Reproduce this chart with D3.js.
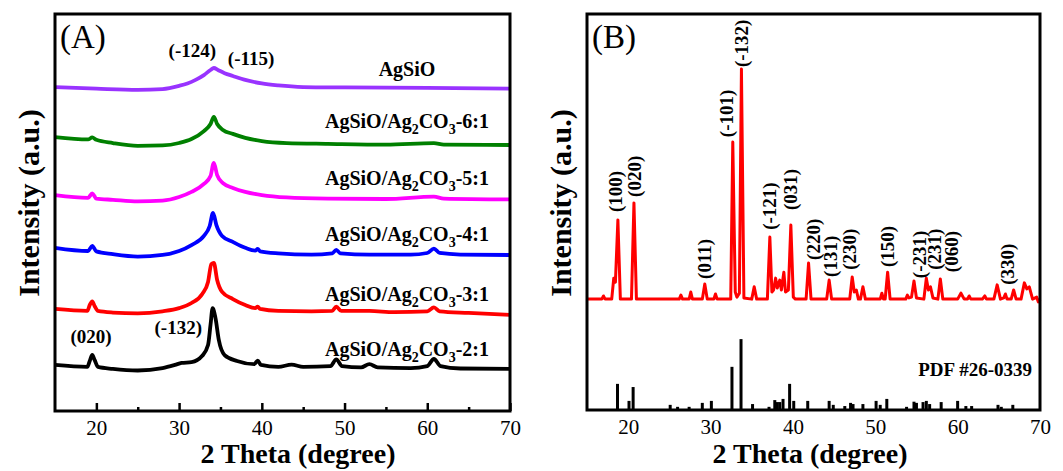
<!DOCTYPE html>
<html>
<head>
<meta charset="utf-8">
<script src="https://cdn.jsdelivr.net/npm/d3@7"></script>
<style>
  body { margin: 0; background: #fff; }
  svg text { font-family: "Liberation Serif", "Times New Roman", serif; }
</style>
</head>
<body>
<svg id="xrd" width="1063" height="471"></svg>
<script>
// 2 theta ticks
const majorTicks = [20, 30, 40, 50, 60, 70];
const minorTicks = [25, 35, 45, 55, 65];
const thetaRange = [15, 70];

// panel A: stacked patterns [2theta, intensity a.u.]
const agSiO = [[15,816],[20,812],[25,809],[28,811],[30,819],[31,825],[32,834],[33,846],[33.8,859],[34.2,864],[34.7,859],[35.5,851],[36.5,844],[38,834],[40,825],[42,820],[45,816],[50,815],[60,814],[70,812]];
const ratio61 = [[15,690],[19,684],[19.5,689],[20,683],[22,675],[25,668],[28,669],[30,675],[31.5,685],[33,705],[33.8,723],[34.2,741],[34.6,723],[35.3,708],[36.5,698],[38,688],[40,680],[43,675],[48,673],[55,671],[60.8,675],[62,671],[70,670]];
const ratio51 = [[15,544],[19,537],[19.5,548],[20,535],[22,532],[25,528],[28,530],[30,539],[31.5,552],[33,572],[33.8,592],[34.2,625],[34.6,594],[35.3,574],[36.5,562],[38,552],[40,544],[43,538],[48,535],[55,534],[60.8,540],[62,535],[70,533]];
const ratio41 = [[15,411],[19,403],[19.5,416],[20,402],[22,395],[25,389],[28,393],[30,403],[31.5,418],[33,441],[33.7,466],[34.1,499],[34.5,469],[35.2,441],[36.5,426],[38,411],[39.2,404],[39.5,408],[39.8,402],[42,397],[46,394],[48.5,397],[49,406],[49.5,397],[53,394],[58,394],[60,398],[60.8,409],[61.5,398],[64,394],[70,393]];
const ratio31 = [[15,257],[18.9,252],[19.2,267],[19.5,276],[19.8,264],[20.2,252],[22,248],[25,246],[28,251],[30,259],[31.5,272],[32.8,295],[33.5,325],[33.9,370],[34.2,373],[34.6,330],[35.2,300],[36.5,282],[38,267],[39.2,259],[39.5,263],[39.8,257],[42,252],[46,251],[48.5,252],[49,263],[49.6,252],[53,252],[56,249],[60,251],[60.8,261],[61.5,251],[65,247],[70,242]];
const ratio21 = [[15,116],[18.9,111],[19.2,126],[19.5,141],[19.8,128],[20.2,111],[22,106],[25,102],[28,108],[29.5,116],[30.3,121],[31.5,123],[32.8,139],[33.5,166],[33.8,217],[34.05,259],[34.4,234],[34.8,179],[35.5,141],[37,126],[39.1,118],[39.5,127],[39.9,116],[42,111],[43.6,117],[45,111],[48.3,113],[49,130],[49.7,113],[52,110],[53,118],[54,110],[58,108],[60,113],[60.8,131],[61.6,113],[64,107],[70,106]];

const seriesA = [agSiO, ratio61, ratio51, ratio41, ratio31, ratio21];
const colorsA = ['#9933ff', '#008000', '#ff00ff', '#0000ff', '#ff0000', '#000000'];
const ratioNames = [null, '6:1', '5:1', '4:1', '3:1', '2:1'];
const labelLevelsA = [844, 713, 569, 428, 277, 139];
const planesA = [['(-124)', 31.6, 892], ['(-115)', 38.7, 872], ['(020)', 19.35, 171], ['(-132)', 29.9, 194]];

// panel B: measured Ag2CO3 pattern and PDF #26-0339 sticks
const ag2co3 = [[15,280],[16.8,280],[17,288],[17.2,280],[18,280],[18.25,333],[18.45,323],[18.75,480],[19.05,280],[20.4,280],[20.7,523],[21,280],[26.2,280],[26.4,290],[26.6,280],[27.4,280],[27.6,298],[27.8,280],[29,280],[29.3,318],[29.6,280],[30.4,280],[30.6,293],[30.8,280],[32.45,280],[32.7,677],[33,298],[33.2,285],[33.5,295],[33.75,861],[34.05,283],[35,280],[35.3,311],[35.6,280],[36.9,280],[37.2,437],[37.45,298],[37.65,303],[37.9,333],[38.1,308],[38.4,328],[38.6,303],[38.9,348],[39.1,298],[39.45,303],[39.75,467],[40.05,285],[40.3,280],[41.6,280],[41.9,371],[42.2,280],[44.1,280],[44.4,328],[44.7,280],[46.9,280],[47.2,336],[47.45,298],[47.7,303],[47.95,280],[48.2,280],[48.5,311],[48.8,280],[50.6,280],[50.8,295],[51,280],[51.2,280],[51.5,348],[51.8,280],[53.7,280],[53.9,290],[54.1,283],[54.4,285],[54.7,326],[55,283],[55.9,280],[56.2,333],[56.45,303],[56.7,311],[57,283],[57.6,280],[57.9,331],[58.2,280],[60,280],[60.4,295],[60.8,280],[61.2,280],[61.4,288],[61.6,280],[63,280],[63.3,288],[63.5,280],[64.4,280],[64.8,316],[65.2,280],[65.6,283],[65.8,293],[66,280],[66.5,280],[66.8,303],[67.1,280],[67.7,280],[68.1,321],[68.4,306],[68.7,311],[69.1,280],[69.6,285],[69.8,273],[70,280]];
const pdfTheta = [18.7,20.1,20.6,25.1,26.0,27.4,29.0,30.1,32.6,33.7,35.1,37.1,37.8,38.1,38.4,38.8,39.6,40.1,41.8,44.4,44.9,46.3,47.0,47.3,48.5,50.1,50.6,51.4,53.8,54.7,55.0,55.8,56.2,56.6,58.0,60.0,61.0,61.7,64.9,65.3,66.7];
const pdfIntensity = [66,23,58,13,8,8,18,23,109,179,15,8,25,20,20,28,66,23,23,23,13,10,18,15,15,23,13,28,8,21,18,20,23,15,20,23,10,10,13,8,13];
const planesB = [['(100)',18.4,500],['(020)',20.76,538],['(011)',29.3,331],['(-101)',31.93,689],['(-132)',33.69,866],['(-121)',37.15,455],['(031)',39.64,505],['(220)',42.45,379],['(131)',44.5,336],['(230)',46.9,354],['(150)',51.5,361],['(-231)',55.4,333],['(231)',57.2,354],['(060)',59.2,348],['(330)',66.0,316]];

const svg = d3.select('#xrd');
svg.append('rect').attr('width', 1063).attr('height', 471).attr('fill', '#fff');

function panel (box, tag, showTicks) {
    const g = svg.append('g');
    const x = d3.scaleLinear().domain(thetaRange).range([box.left, box.right]);
    const y = d3.scaleLinear().domain([0, 1000]).range([box.bottom, box.top]);

    const axis = d3.axisBottom(x)
        .tickValues(majorTicks)
        .tickSizeInner(showTicks ? -8 : 0)
        .tickSizeOuter(0)
        .tickPadding(9)
        .tickFormat(d3.format('d'));
    const ax = g.append('g')
        .attr('transform', `translate(0,${box.bottom})`)
        .call(axis);
    ax.select('.domain').remove();
    ax.selectAll('line').attr('stroke', '#000').attr('stroke-width', 2.5);
    ax.selectAll('text')
        .attr('font-size', 21)
        .attr('fill', '#000')
        .style('font-family', '"Liberation Serif", "Times New Roman", serif');

    if (showTicks) {
        const minor = g.append('g')
            .attr('transform', `translate(0,${box.bottom})`)
            .call(d3.axisBottom(x).tickValues(minorTicks).tickSizeInner(-4).tickSizeOuter(0).tickFormat(''));
        minor.select('.domain').remove();
        minor.selectAll('line').attr('stroke', '#000').attr('stroke-width', 2.5);
    }

    g.append('text')
        .attr('x', box.left + 5)
        .attr('y', 48)
        .attr('font-size', 33)
        .text(tag);

    g.append('text')
        .attr('x', box.titleX)
        .attr('y', 463)
        .attr('text-anchor', 'middle')
        .attr('font-size', 28)
        .attr('font-weight', 'bold')
        .text('2 Theta (degree)');

    g.append('text')
        .attr('transform', `translate(${box.yTitleX},203) rotate(-90)`)
        .attr('text-anchor', 'middle')
        .attr('dy', '0.35em')
        .attr('font-size', 30)
        .attr('font-weight', 'bold')
        .text('Intensity (a.u.)');

    return {g, x, y};
}

// PANEL A
const boxA = {left: 55, right: 510, top: 14, bottom: 411, titleX: 298, yTitleX: 28};
const A = panel(boxA, '(A)', true);
const lineA = d3.line()
    .x(d => A.x(d[0]))
    .y(d => A.y(d[1]))
    .curve(d3.curveMonotoneX);

A.g.selectAll('.patternA')
    .data(seriesA)
    .enter()
    .append('path')
    .attr('class', 'patternA')
    .attr('fill', 'none')
    .attr('stroke', (d, i) => colorsA[i])
    .attr('stroke-width', 3.8)
    .attr('stroke-linejoin', 'round')
    .attr('d', lineA);

const labelsA = A.g.selectAll('.seriesLabel')
    .data(ratioNames)
    .enter()
    .append('text')
    .attr('class', 'seriesLabel')
    .attr('x', A.x(57.55))
    .attr('y', (d, i) => A.y(labelLevelsA[i]))
    .attr('text-anchor', 'middle')
    .attr('font-size', 20)
    .attr('font-weight', 'bold');
labelsA.each(function (d) {
    const t = d3.select(this);
    if (d === null) {
        t.text('AgSiO');
        return;
    }
    t.append('tspan').text('AgSiO/Ag');
    t.append('tspan').attr('dy', 6).attr('font-size', 14).text('2');
    t.append('tspan').attr('dy', -6).text('CO');
    t.append('tspan').attr('dy', 6).attr('font-size', 14).text('3');
    t.append('tspan').attr('dy', -6).text(`-${d}`);
});

A.g.selectAll('.planeA')
    .data(planesA)
    .enter()
    .append('text')
    .attr('class', 'planeA')
    .attr('x', d => A.x(d[1]))
    .attr('y', d => A.y(d[2]))
    .attr('text-anchor', 'middle')
    .attr('font-size', 19)
    .attr('font-weight', 'bold')
    .text(d => d[0]);

A.g.append('rect')
    .attr('x', boxA.left).attr('y', boxA.top)
    .attr('width', boxA.right - boxA.left).attr('height', boxA.bottom - boxA.top)
    .attr('fill', 'none').attr('stroke', '#000').attr('stroke-width', 3);

// PANEL B
const boxB = {left: 587, right: 1040, top: 14, bottom: 410, titleX: 810, yTitleX: 560};
const B = panel(boxB, '(B)', false);

B.g.selectAll('.stick')
    .data(pdfTheta)
    .enter()
    .append('line')
    .attr('class', 'stick')
    .attr('x1', d => B.x(d))
    .attr('x2', d => B.x(d))
    .attr('y1', B.y(0))
    .attr('y2', (d, i) => B.y(pdfIntensity[i]))
    .attr('stroke', '#000')
    .attr('stroke-width', 3);

B.g.append('path')
    .datum(ag2co3)
    .attr('fill', 'none')
    .attr('stroke', '#ff0000')
    .attr('stroke-width', 3)
    .attr('stroke-linejoin', 'round')
    .attr('d', d3.line().x(d => B.x(d[0])).y(d => B.y(d[1])));

B.g.selectAll('.planeB')
    .data(planesB)
    .enter()
    .append('text')
    .attr('class', 'planeB')
    .attr('transform', d => `translate(${B.x(d[1])},${B.y(d[2])}) rotate(-90)`)
    .attr('dy', '0.35em')
    .attr('font-size', 19)
    .attr('font-weight', 'bold')
    .text(d => d[0]);

B.g.append('text')
    .attr('x', 1032)
    .attr('y', 376)
    .attr('text-anchor', 'end')
    .attr('font-size', 19)
    .attr('font-weight', 'bold')
    .text('PDF #26-0339');

B.g.append('rect')
    .attr('x', boxB.left).attr('y', boxB.top)
    .attr('width', boxB.right - boxB.left).attr('height', boxB.bottom - boxB.top)
    .attr('fill', 'none').attr('stroke', '#000').attr('stroke-width', 3);
</script>
</body>
</html>
